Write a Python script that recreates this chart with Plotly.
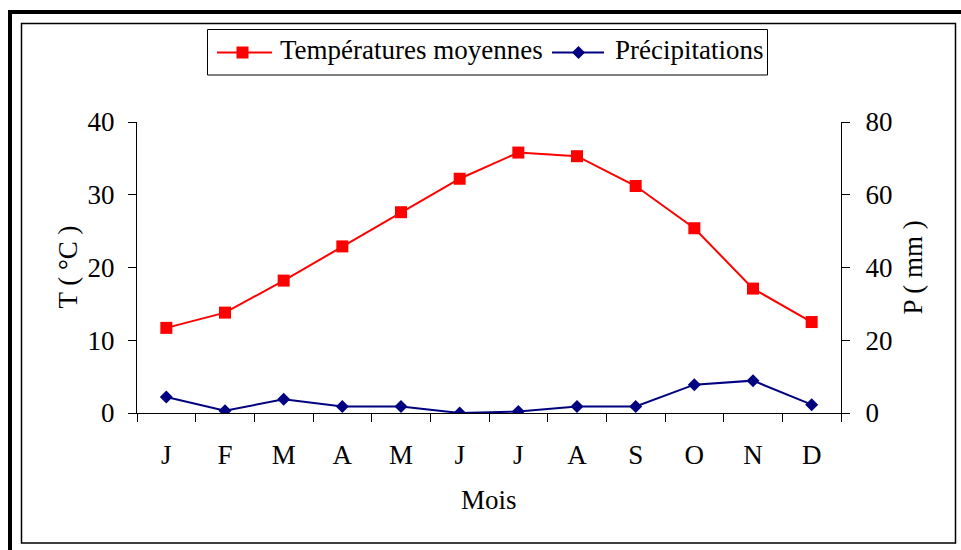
import plotly.graph_objects as go

# Monthly climate data
months = ["J", "F", "M", "A", "M", "J", "J", "A", "S", "O", "N", "D"]
temperature = [11.7, 13.8, 18.2, 22.9, 27.6, 32.2, 35.8, 35.3, 31.2, 25.4, 17.1, 12.5]
precipitation = [4.4, 0.6, 3.8, 1.8, 1.8, 0.0, 0.4, 1.8, 1.8, 7.8, 8.9, 2.3]

temp_ticks = [0, 10, 20, 30, 40]
prec_ticks = [0, 20, 40, 60, 80]

RED = "#FF0000"
NAVY = "#000080"
FONT = "Liberation Serif, Times New Roman, serif"
FS = 27

# Page and plot-area geometry (pixels)
W, H = 961, 550
L, R, T, B = 137, 841, 122, 413


def px_x(px):
    return (px - L) / (R - L)


def px_y(py):
    return (B - py) / (B - T)


x = list(range(len(months)))

fig = go.Figure()
fig.add_trace(go.Scatter(
    x=x, y=temperature, name="Températures moyennes", yaxis="y",
    mode="lines+markers",
    line=dict(color=RED, width=2),
    marker=dict(symbol="square", size=12, color=RED),
    showlegend=False,
))
fig.add_trace(go.Scatter(
    x=x, y=precipitation, name="Précipitations", yaxis="y2",
    mode="lines+markers",
    line=dict(color=NAVY, width=2),
    marker=dict(symbol="diamond", size=10, color=NAVY),
    showlegend=False,
))

shapes = []
# outer heavy frame and inner thin frame
shapes.append(dict(type="rect", xref="paper", yref="paper",
                   x0=px_x(10), x1=px_x(1200), y0=px_y(12), y1=px_y(800),
                   line=dict(color="black", width=4), layer="below"))
shapes.append(dict(type="rect", xref="paper", yref="paper",
                   x0=px_x(21.5), x1=px_x(955.5), y0=px_y(23.5), y1=px_y(543),
                   line=dict(color="black", width=1.5), layer="below"))

# legend box
shapes.append(dict(type="rect", xref="paper", yref="paper",
                   x0=px_x(207.5), x1=px_x(767.5), y0=px_y(29.5), y1=px_y(75),
                   line=dict(color="black", width=1), fillcolor="white", layer="below"))
LY = 52.5
# legend entry: temperature
shapes.append(dict(type="line", xref="paper", yref="paper",
                   x0=px_x(217), x1=px_x(272), y0=px_y(LY), y1=px_y(LY),
                   line=dict(color=RED, width=2)))
shapes.append(dict(type="rect", xref="paper", yref="paper",
                   x0=px_x(236.5), x1=px_x(248.5), y0=px_y(LY - 6), y1=px_y(LY + 6),
                   line=dict(width=0), fillcolor=RED))
# legend entry: precipitation
shapes.append(dict(type="line", xref="paper", yref="paper",
                   x0=px_x(552), x1=px_x(604), y0=px_y(LY), y1=px_y(LY),
                   line=dict(color=NAVY, width=2)))
cx, cy, d = 578.5, LY, 6.5
diamond = "M {},{} L {},{} L {},{} L {},{} Z".format(
    px_x(cx - d), px_y(cy), px_x(cx), px_y(cy - d),
    px_x(cx + d), px_y(cy), px_x(cx), px_y(cy + d))
shapes.append(dict(type="path", xref="paper", yref="paper", path=diamond,
                   line=dict(width=0), fillcolor=NAVY))

font = dict(family=FONT, size=FS, color="black")
annotations = [
    dict(text="Températures moyennes", x=px_x(278), y=px_y(50), xref="paper", yref="paper",
         xanchor="left", yanchor="middle", showarrow=False, font=font),
    dict(text="Précipitations", x=px_x(612.5), y=px_y(50), xref="paper", yref="paper",
         xanchor="left", yanchor="middle", showarrow=False, font=font),
    dict(text="T ( °C )", x=px_x(67), y=0.5, xref="paper", yref="paper",
         xanchor="center", yanchor="middle", textangle=-90, showarrow=False, font=font),
    dict(text="P ( mm )", x=px_x(912), y=0.5, xref="paper", yref="paper",
         xanchor="center", yanchor="middle", textangle=-90, showarrow=False, font=font),
    dict(text="Mois", x=0.5, y=px_y(500), xref="paper", yref="paper",
         xanchor="center", yanchor="middle", showarrow=False, font=font),
]

axis_common = dict(showgrid=False, zeroline=False, showline=True, linecolor="black",
                   linewidth=1, tickfont=font, ticks="outside", ticklen=8,
                   tickcolor="black", tickwidth=1)

fig.update_layout(
    width=W, height=H,
    margin=dict(l=L, r=W - R, t=T, b=H - B, pad=0),
    paper_bgcolor="white", plot_bgcolor="white",
    font=font,
    xaxis=dict(
        range=[-0.5, len(months) - 0.5], tickmode="array", tickvals=x, ticktext=months,
        showgrid=False, zeroline=False, showline=True, linecolor="black", linewidth=1,
        tickfont=font, ticks="", ticklabelstandoff=18,
        minor=dict(ticks="outside", ticklen=8, tickcolor="black", tickwidth=1,
                   tick0=-0.5, dtick=1, showgrid=False),
    ),
    yaxis=dict(range=[0, 40], tickmode="array", tickvals=temp_ticks,
               ticklabelstandoff=8, **axis_common),
    yaxis2=dict(range=[0, 80], tickmode="array", tickvals=prec_ticks,
                overlaying="y", side="right", ticklabelstandoff=10, **axis_common),
    shapes=shapes,
    annotations=annotations,
    showlegend=False,
)

fig.write_html("out.html")
